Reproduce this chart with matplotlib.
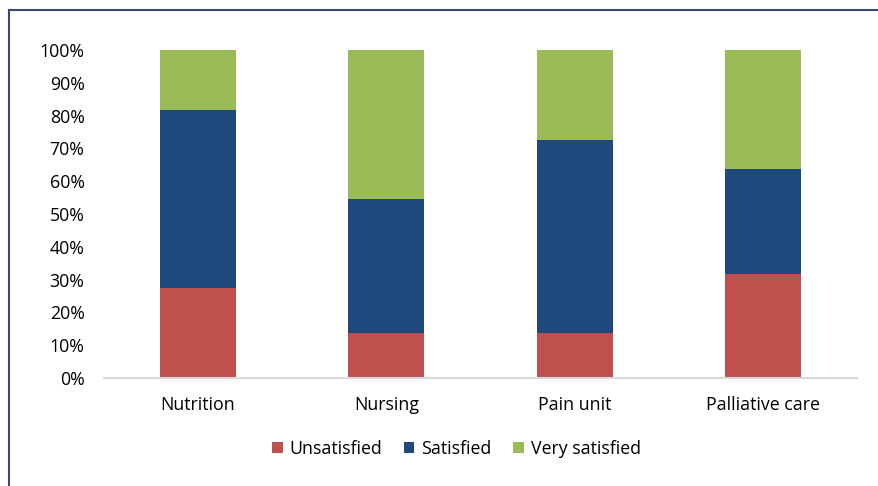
import matplotlib.pyplot as plt
import numpy as np
from matplotlib.lines import Line2D

plt.rcParams['font.family'] = ['Open Sans', 'DejaVu Sans']

units = ["Nutrition", "Nursing", "Pain unit", "Palliative care"]
unsatisfied = [27.3, 13.6, 13.6, 31.8]
satisfied = [54.5, 40.9, 59.1, 31.8]
very_satisfied = [18.2, 45.5, 27.3, 36.4]

red = "#c0504d"
blue = "#1f497d"
green = "#9bbb59"

fig = plt.figure(figsize=(8.79, 4.86), dpi=100)
ax = fig.add_axes([0.1183, 0.2222, 0.8567, 0.6749])

x = np.arange(len(units))
w = 0.404
ax.bar(x, unsatisfied, w, color=red, label="Unsatisfied")
ax.bar(x, satisfied, w, bottom=unsatisfied, color=blue, label="Satisfied")
bottom2 = np.array(unsatisfied) + np.array(satisfied)
ax.bar(x, very_satisfied, w, bottom=bottom2, color=green, label="Very satisfied")

ax.set_xlim(-0.5, 3.5)
ax.set_ylim(0, 100)
ax.set_yticks(range(0, 101, 10))
ax.set_yticklabels([f"{v}%" for v in range(0, 101, 10)])
ax.set_xticks(x)
ax.set_xticklabels(units)
for s in ["top", "right", "left"]:
    ax.spines[s].set_visible(False)
ax.spines["bottom"].set_color("#d9d9d9")
ax.spines["bottom"].set_linewidth(1.5)
ax.tick_params(axis="y", length=0, pad=14, labelsize=12.8, colors="#000000")
ax.tick_params(axis="x", length=0, pad=13, labelsize=12.8)

ax.legend(loc="upper center", bbox_to_anchor=(0.468, -0.14),
          ncol=3, frameon=False, fontsize=12.8, handlelength=0.6, handleheight=0.6,
          handletextpad=0.4, columnspacing=1.2)

# outer frame
fig.add_artist(Line2D([9 / 879, 9 / 879], [0, 1 - 10 / 486], color="#3a4778", lw=1.5))
fig.add_artist(Line2D([9 / 879, 1], [1 - 10 / 486, 1 - 10 / 486], color="#3a4778", lw=1.5))

fig.savefig("out.png", dpi=100)
